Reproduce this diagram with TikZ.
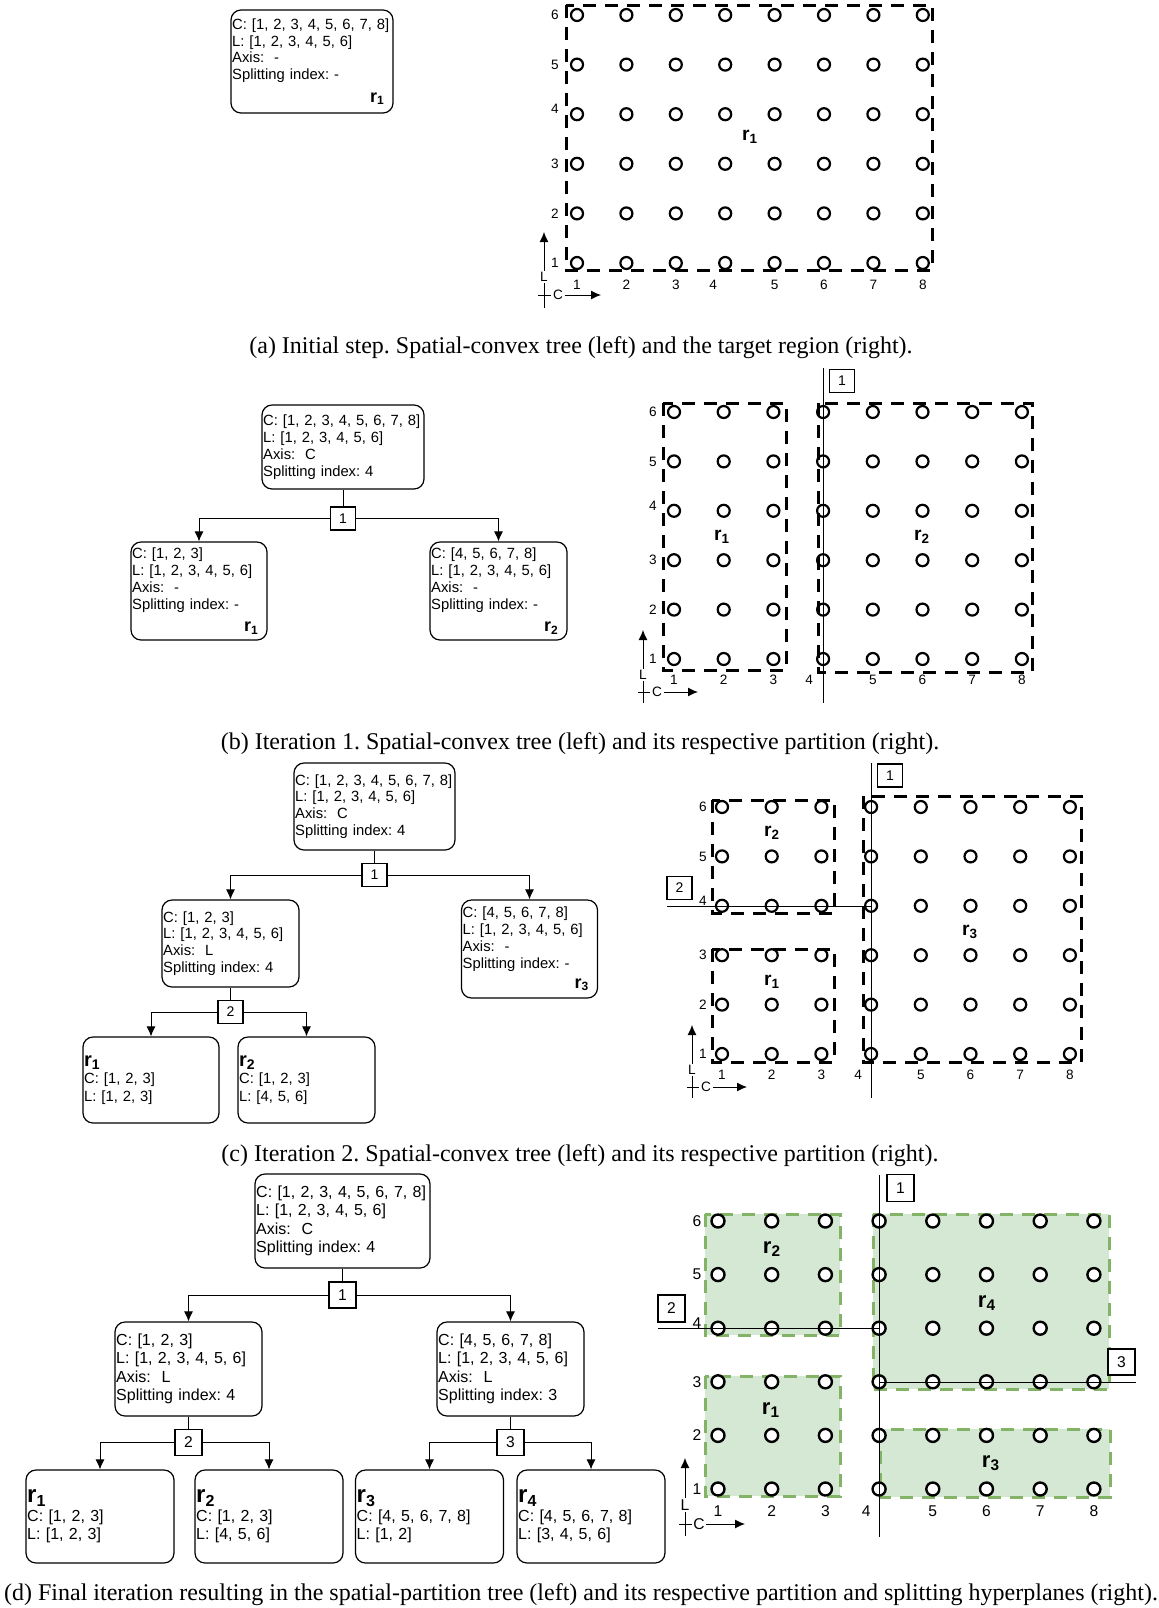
\documentclass[tikz,border=0pt]{standalone}
\usepackage{fontspec}
\setmainfont{Liberation Serif}
\setsansfont{Liberation Sans}
\usepackage{tikz}
\usetikzlibrary{arrows.meta}
\usetikzlibrary{calc}
\usetikzlibrary{positioning}
\frenchspacing

\definecolor{greenfill}{HTML}{D5E8D4}
\definecolor{greenline}{HTML}{82B366}

\begin{document}
\begin{tikzpicture}[
    x=0.5pt, y=-0.5pt,
    treenode/.style 2 args={draw, line width=0.6pt, rounded corners=5pt,
        align=left, text width=#1, minimum height=#2,
        inner xsep=0.6pt, inner ysep=0pt,
        font=\sffamily\fontsize{7.4}{8.4}\selectfont},
    bigtree/.style={font=\sffamily\fontsize{8}{9.2}\selectfont},
    splitbox/.style={draw, fill=white, line width=0.6pt, inner sep=0pt,
        minimum width=12.5pt, minimum height=11.5pt,
        font=\sffamily\fontsize{7}{7}\selectfont},
    conn/.style={line width=0.5pt, -{Latex[length=5pt,width=4.5pt]}},
    gridpt/.style={draw, line width=1.1pt, fill=white},
    region/.style={line width=1.5pt, dash pattern=on 6.5pt off 4.5pt},
    greenregion/.style={draw=greenline, fill=greenfill, line width=1.5pt, dash pattern=on 6.5pt off 4.5pt},
    hyper/.style={line width=0.5pt},
    axisarr/.style={line width=0.5pt, -{Latex[length=5pt,width=4.5pt]}},
    axlbl/.style={fill=white, inner sep=0.8pt, font=\sffamily\fontsize{6.8}{6.8}\selectfont},
    numlbl/.style={inner sep=0pt, font=\sffamily\fontsize{6.8}{6.8}\selectfont},
    regionlbl/.style={inner sep=0pt, font=\sffamily\bfseries\fontsize{9.6}{9.6}\selectfont},
    capt/.style={inner sep=0pt, font=\rmfamily\fontsize{12}{14}\selectfont}
    ]

    \useasboundingbox (0,0) rectangle (1158,1608);

    % (a) initial step: tree
    \node[treenode={79.8pt}{51.5pt}] (rootA) at (312,61.5)
        {C: [1, 2, 3, 4, 5, 6, 7, 8]\\ L: [1, 2, 3, 4, 5, 6]\\ Axis:\ \ -\\ Splitting index: -\\[3pt]
        \hspace*{\fill}{\bfseries\fontsize{9}{9}\selectfont r\textsubscript{1}}\kern3.5pt};

    % (a) target region
    \foreach \i in {1,...,8}
        \foreach \j in {1,...,6}
            \draw[gridpt] ({577+49.4*(\i-1)},{263-49.6*(\j-1)}) circle[radius=6];
    \draw[region] (566,5) rectangle (932,270);
    \node[regionlbl] (regA1) at (750,137) {r\textsubscript{1}};
    \foreach \j in {1,...,6}
        \node[numlbl] (rowA\j) at (555,{263-49.6*(\j-1)-5*(\j==4)}) {\j};
    \foreach \i in {1,...,8}
        \node[numlbl] (colA\i) at ({577+49.4*(\i-1)-12*(\i==4)},285) {\i};
    \draw[axisarr] (544,308) -- (544,232);
    \draw[axisarr] (538,295) -- (601,295);
    \node[axlbl] (axLA) at (544,277) {L};
    \node[axlbl] (axCA) at (558,295) {C};

    \node[capt, anchor=base] (capA) at (581,353)
        {(a) Initial step. Spatial-convex tree (left) and the target region (right).};

    % (b) iteration 1: tree
    \node[treenode={79.8pt}{42pt}] (rootB) at (343,447)
        {C: [1, 2, 3, 4, 5, 6, 7, 8]\\ L: [1, 2, 3, 4, 5, 6]\\ Axis:\ \ C\\ Splitting index: 4};
    \node[splitbox] (splitB1) at (343,518.5) {1};
    \node[treenode={66.8pt}{49pt}] (leftB) at (199,591)
        {C: [1, 2, 3]\\ L: [1, 2, 3, 4, 5, 6]\\ Axis:\ \ -\\ Splitting index: -\\[3pt]
        \hspace*{\fill}{\bfseries\fontsize{9}{9}\selectfont r\textsubscript{1}}\kern3.5pt};
    \node[treenode={67.3pt}{49pt}] (rightB) at (498.5,591)
        {C: [4, 5, 6, 7, 8]\\ L: [1, 2, 3, 4, 5, 6]\\ Axis:\ \ -\\ Splitting index: -\\[3pt]
        \hspace*{\fill}{\bfseries\fontsize{9}{9}\selectfont r\textsubscript{2}}\kern3.5pt};
    \draw[line width=0.5pt] (rootB) -- (splitB1);
    \draw[conn] (splitB1) -| (leftB);
    \draw[conn] (splitB1) -| (rightB);

    % (b) partition
    \foreach \i in {1,...,8}
        \foreach \j in {1,...,6}
            \draw[gridpt] ({674+49.7*(\i-1)},{659-49.4*(\j-1)}) circle[radius=6];
    \draw[region] (663,403) rectangle (786,670);
    \draw[region] (818,403) rectangle (1032,672);
    \draw[hyper] (823,368) -- (823,703);
    \node[splitbox] (hypB1) at (842,381) {1};
    \node[regionlbl] (regB1) at (722,537) {r\textsubscript{1}};
    \node[regionlbl] (regB2) at (922,537) {r\textsubscript{2}};
    \foreach \j in {1,...,6}
        \node[numlbl] (rowB\j) at (653,{659-49.4*(\j-1)-5*(\j==4)}) {\j};
    \foreach \i in {1,...,8}
        \node[numlbl] (colB\i) at ({674+49.7*(\i-1)-14*(\i==4)},680) {\i};
    \draw[axisarr] (643,703) -- (643,630);
    \draw[axisarr] (638,692) -- (698,692);
    \node[axlbl] (axLB) at (643,675) {L};
    \node[axlbl] (axCB) at (657,692) {C};

    \node[capt, anchor=base] (capB) at (580,749)
        {(b) Iteration 1. Spatial-convex tree (left) and its respective partition (right).};

    % (c) iteration 2: tree
    \node[treenode={79.3pt}{43.5pt}] (rootC) at (374.5,806.5)
        {C: [1, 2, 3, 4, 5, 6, 7, 8]\\ L: [1, 2, 3, 4, 5, 6]\\ Axis:\ \ C\\ Splitting index: 4};
    \node[splitbox] (splitC1) at (374.5,875) {1};
    \node[treenode={67.3pt}{43.5pt}] (midC) at (230.5,943.5)
        {C: [1, 2, 3]\\ L: [1, 2, 3, 4, 5, 6]\\ Axis:\ \ L\\ Splitting index: 4};
    \node[treenode={66.8pt}{49pt}] (rightC) at (529.5,949)
        {C: [4, 5, 6, 7, 8]\\ L: [1, 2, 3, 4, 5, 6]\\ Axis:\ \ -\\ Splitting index: -\\[2pt]
        \hspace*{\fill}{\bfseries\fontsize{9}{9}\selectfont r\textsubscript{3}}\kern3.5pt};
    \node[splitbox] (splitC2) at (230.5,1012) {2};
    \node[treenode={66.8pt}{43pt}, font=\sffamily\fontsize{7.4}{8.8}\selectfont] (leafC1) at (151,1080)
        {{\bfseries\fontsize{10}{11}\selectfont r\textsubscript{1}}\\ C: [1, 2, 3]\\ L: [1, 2, 3]};
    \node[treenode={67.3pt}{43pt}, font=\sffamily\fontsize{7.4}{8.8}\selectfont] (leafC2) at (306.5,1080)
        {{\bfseries\fontsize{10}{11}\selectfont r\textsubscript{2}}\\ C: [1, 2, 3]\\ L: [4, 5, 6]};
    \draw[line width=0.5pt] (rootC) -- (splitC1);
    \draw[conn] (splitC1) -| (midC);
    \draw[conn] (splitC1) -| (rightC);
    \draw[line width=0.5pt] (midC) -- (splitC2);
    \draw[conn] (splitC2) -| (leafC1);
    \draw[conn] (splitC2) -| (leafC2);

    % (c) partition
    \foreach \i in {1,...,8}
        \foreach \j in {1,...,6}
            \draw[gridpt] ({722+49.7*(\i-1)},{1054-49.4*(\j-1)}) circle[radius=6];
    \draw[region] (712,800) rectangle (834,913);
    \draw[region] (712,949) rectangle (834,1062);
    \draw[region] (863,796) rectangle (1081,1062);
    \draw[hyper] (871,763) -- (871,1098);
    \draw[hyper] (667,906) -- (871,906);
    \node[splitbox] (hypC1) at (890,775.5) {1};
    \node[splitbox] (hypC2) at (679.5,888) {2};
    \node[regionlbl] (regC2) at (772,833) {r\textsubscript{2}};
    \node[regionlbl] (regC1) at (772,982) {r\textsubscript{1}};
    \node[regionlbl] (regC3) at (970,932) {r\textsubscript{3}};
    \foreach \j in {1,...,6}
        \node[numlbl] (rowC\j) at (703,{1054-49.4*(\j-1)-5*(\j==4)}) {\j};
    \foreach \i in {1,...,8}
        \node[numlbl] (colC\i) at ({722+49.7*(\i-1)-13*(\i==4)},1075) {\i};
    \draw[axisarr] (692,1098) -- (692,1025);
    \draw[axisarr] (687,1087) -- (747,1087);
    \node[axlbl] (axLC) at (692,1070) {L};
    \node[axlbl] (axCC) at (706,1087) {C};

    \node[capt, anchor=base] (capC) at (580,1161)
        {(c) Iteration 2. Spatial-convex tree (left) and its respective partition (right).};

    % (d) final iteration: tree
    \node[treenode={86.3pt}{47pt}, bigtree] (rootD) at (342.5,1221)
        {C: [1, 2, 3, 4, 5, 6, 7, 8]\\ L: [1, 2, 3, 4, 5, 6]\\ Axis:\ \ C\\ Splitting index: 4};
    \node[splitbox, minimum width=13.5pt, minimum height=13pt, font=\sffamily\fontsize{7.8}{7.8}\selectfont] (splitD1) at (342.5,1295) {1};
    \node[treenode={72.3pt}{47pt}, bigtree] (midLD) at (188.5,1369)
        {C: [1, 2, 3]\\ L: [1, 2, 3, 4, 5, 6]\\ Axis:\ \ L\\ Splitting index: 4};
    \node[treenode={72.3pt}{47pt}, bigtree] (midRD) at (510.5,1369)
        {C: [4, 5, 6, 7, 8]\\ L: [1, 2, 3, 4, 5, 6]\\ Axis:\ \ L\\ Splitting index: 3};
    \node[splitbox, minimum width=13.5pt, minimum height=13pt, font=\sffamily\fontsize{7.8}{7.8}\selectfont] (splitD2) at (188.5,1442.5) {2};
    \node[splitbox, minimum width=13.5pt, minimum height=13pt, font=\sffamily\fontsize{7.8}{7.8}\selectfont] (splitD3) at (510.5,1442.5) {3};
    \node[treenode={72.8pt}{46.5pt}, bigtree] (leafD1) at (100,1516.5)
        {{\bfseries\fontsize{12}{13}\selectfont r\textsubscript{1}}\\ C: [1, 2, 3]\\ L: [1, 2, 3]};
    \node[treenode={72.8pt}{46.5pt}, bigtree] (leafD2) at (269,1516.5)
        {{\bfseries\fontsize{12}{13}\selectfont r\textsubscript{2}}\\ C: [1, 2, 3]\\ L: [4, 5, 6]};
    \node[treenode={72.8pt}{46.5pt}, bigtree] (leafD3) at (429.5,1516.5)
        {{\bfseries\fontsize{12}{13}\selectfont r\textsubscript{3}}\\ C: [4, 5, 6, 7, 8]\\ L: [1, 2]};
    \node[treenode={72.8pt}{46.5pt}, bigtree] (leafD4) at (591,1516.5)
        {{\bfseries\fontsize{12}{13}\selectfont r\textsubscript{4}}\\ C: [4, 5, 6, 7, 8]\\ L: [3, 4, 5, 6]};
    \draw[line width=0.5pt] (rootD) -- (splitD1);
    \draw[conn] (splitD1) -| (midLD);
    \draw[conn] (splitD1) -| (midRD);
    \draw[line width=0.5pt] (midLD) -- (splitD2);
    \draw[conn] (splitD2) -| (leafD1);
    \draw[conn] (splitD2) -| (leafD2);
    \draw[line width=0.5pt] (midRD) -- (splitD3);
    \draw[conn] (splitD3) -| (leafD3);
    \draw[conn] (splitD3) -| (leafD4);

    % (d) partition and splitting hyperplanes
    \draw[greenregion] (705,1214) rectangle (840,1335);
    \draw[greenregion] (705,1376) rectangle (840,1496);
    \draw[greenregion] (873,1214) rectangle (1109,1389);
    \draw[greenregion] (880,1429) rectangle (1110,1497);
    \foreach \i in {1,...,8}
        \foreach \j in {1,...,6}
            \draw[gridpt, line width=1.2pt] ({718+53.7*(\i-1)},{1489-53.6*(\j-1)}) circle[radius=6.5];
    \draw[hyper] (879,1175) -- (879,1537);
    \draw[hyper] (658,1328) -- (879,1328);
    \draw[hyper] (879,1382) -- (1136,1382);
    \node[splitbox, minimum width=13.5pt, minimum height=13.5pt, font=\sffamily\fontsize{7.8}{7.8}\selectfont] (hypD1) at (900.5,1188) {1};
    \node[splitbox, minimum width=13.5pt, minimum height=13.5pt, font=\sffamily\fontsize{7.8}{7.8}\selectfont] (hypD2) at (671.5,1308.5) {2};
    \node[splitbox, minimum width=13.5pt, minimum height=13pt, font=\sffamily\fontsize{7.8}{7.8}\selectfont] (hypD3) at (1121.5,1362) {3};
    \node[regionlbl, font=\sffamily\bfseries\fontsize{11}{11}\selectfont] (regD2) at (772,1249) {r\textsubscript{2}};
    \node[regionlbl, font=\sffamily\bfseries\fontsize{11}{11}\selectfont] (regD4) at (987,1303) {r\textsubscript{4}};
    \node[regionlbl, font=\sffamily\bfseries\fontsize{11}{11}\selectfont] (regD1) at (771,1410) {r\textsubscript{1}};
    \node[regionlbl, font=\sffamily\bfseries\fontsize{11}{11}\selectfont] (regD3) at (991,1463) {r\textsubscript{3}};
    \foreach \j in {1,...,6}
        \node[numlbl, font=\sffamily\fontsize{7.8}{7.8}\selectfont] (rowD\j) at (697,{1489-53.6*(\j-1)-5*(\j==4)}) {\j};
    \foreach \i in {1,...,8}
        \node[numlbl, font=\sffamily\fontsize{7.8}{7.8}\selectfont] (colD\i) at ({718+53.7*(\i-1)-13*(\i==4)},1511) {\i};
    \draw[axisarr] (685,1536) -- (685,1458);
    \draw[axisarr] (679,1524) -- (745,1524);
    \node[axlbl, font=\sffamily\fontsize{7.8}{7.8}\selectfont] (axLD) at (685,1505) {L};
    \node[axlbl, font=\sffamily\fontsize{7.8}{7.8}\selectfont] (axCD) at (699,1524) {C};

    \node[capt, anchor=base] (capD) at (581,1600)
        {(d) Final iteration resulting in the spatial-partition tree (left) and its respective partition and splitting hyperplanes (right).};

\end{tikzpicture}
\end{document}
